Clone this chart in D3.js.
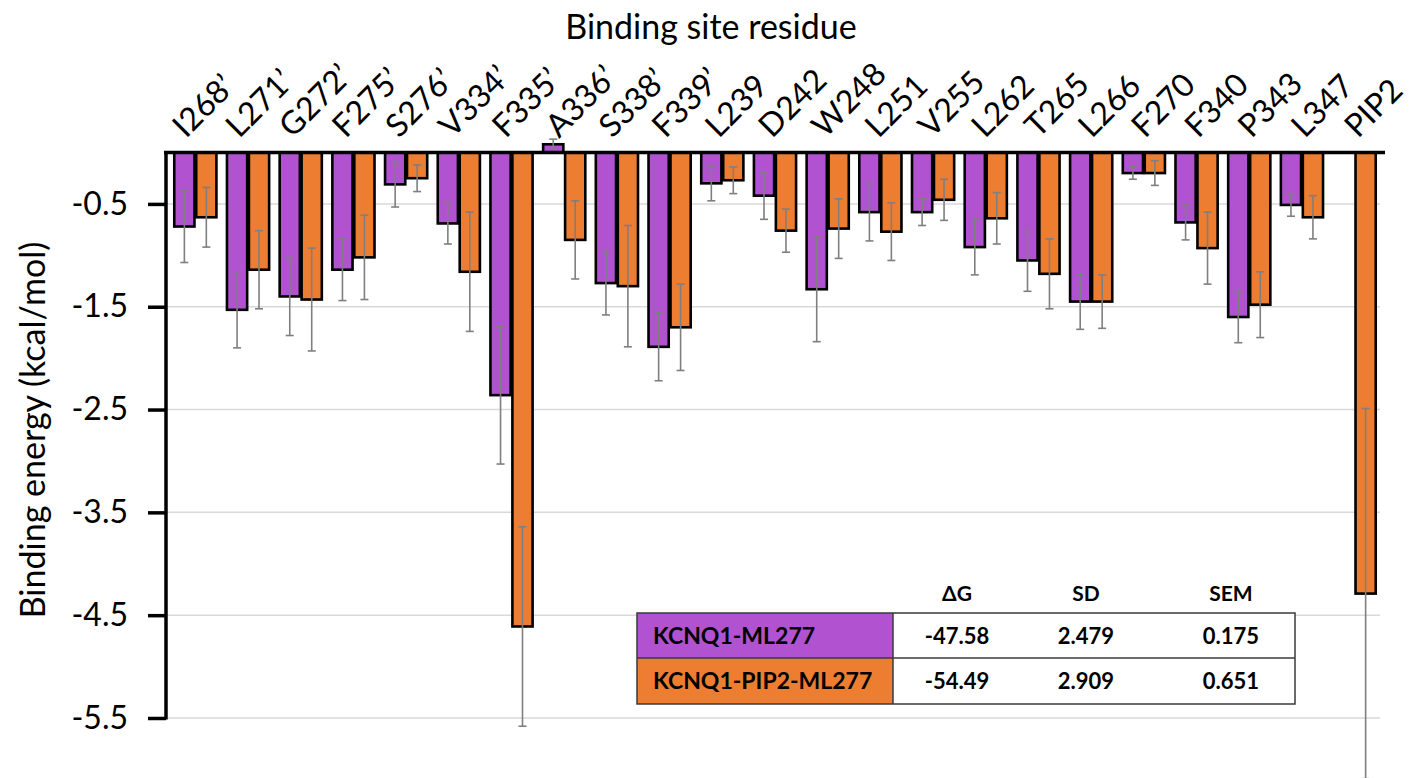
<!DOCTYPE html>
<html>
<head>
<meta charset="utf-8">
<script src="https://cdn.jsdelivr.net/npm/d3@7"></script>
<style>
  html, body { margin: 0; padding: 0; background: #fff; }
  svg { display: block; font-family: Lato, "Open Sans", sans-serif; }
</style>
</head>
<body>
<svg id="chart" width="1414" height="778"></svg>
<script>
// residues along the top axis
var residues = ["I268’", "L271’", "G272’", "F275’", "S276’", "V334’", "F335’", "A336’", "S338’", "F339’",
  "L239", "D242", "W248", "L251", "V255", "L262", "T265", "L266", "F270", "F340", "P343", "L347", "PIP2"];

// KCNQ1-ML277 (purple)
var mlValues = [-0.72, -1.53, -1.40, -1.14, -0.31, -0.69, -2.36, 0.08, -1.27, -1.89,
  -0.30, -0.42, -1.33, -0.58, -0.58, -0.92, -1.05, -1.45, -0.20, -0.68, -1.60, -0.51, null];
var mlErrors = [0.35, 0.37, 0.38, 0.30, 0.22, 0.20, 0.67, 0.05, 0.31, 0.33,
  0.17, 0.23, 0.51, 0.28, 0.13, 0.27, 0.30, 0.27, 0.06, 0.17, 0.25, 0.11, null];

// KCNQ1-PIP2-ML277 (orange)
var pipValues = [-0.63, -1.14, -1.43, -1.02, -0.25, -1.16, -4.61, -0.85, -1.30, -1.70,
  -0.27, -0.76, -0.74, -0.77, -0.46, -0.64, -1.18, -1.45, -0.20, -0.93, -1.48, -0.63, -4.29];
var pipErrors = [0.29, 0.38, 0.50, 0.41, 0.13, 0.58, 0.97, 0.38, 0.59, 0.42,
  0.13, 0.21, 0.29, 0.28, 0.20, 0.25, 0.34, 0.26, 0.12, 0.35, 0.32, 0.21, 1.80];

var yTicks = [-0.5, -1.5, -2.5, -3.5, -4.5, -5.5];

// inset table
var tableHeaders = ["ΔG", "SD", "SEM"];
var tableSystems = ["KCNQ1-ML277", "KCNQ1-PIP2-ML277"];
var tableDG = ["-47.58", "-54.49"];
var tableSD = ["2.479", "2.909"];
var tableSEM = ["0.175", "0.651"];

var cPurple = "#b153d0";
var cOrange = "#ed7d31";

var svg = d3.select("#chart");

var x0 = d3.scaleBand().domain(residues).range([169, 1381]).paddingInner(0.2).paddingOuter(0.1);
var x1 = d3.scaleBand().domain([0, 1]).range([0, x0.bandwidth()]).paddingInner(0.08);
// the rotated labels sit on a slightly wider spacing than the bars
var xLabel = d3.scalePoint().domain(residues).range([188, 1360]);
var y = d3.scaleLinear().domain([0, -5.5]).range([152.5, 718]);

// gridlines
svg.append("g")
  .selectAll("line")
  .data(yTicks)
  .enter()
  .append("line")
  .attr("x1", 166)
  .attr("x2", 1380)
  .attr("y1", d => y(d))
  .attr("y2", d => y(d))
  .attr("stroke", "#d9d9d9")
  .attr("stroke-width", 1.5);

// bars
var series = [
  { values: mlValues, errors: mlErrors, color: cPurple },
  { values: pipValues, errors: pipErrors, color: cOrange }
];

var items = [];
series.forEach((s, si) => {
  residues.forEach((r, i) => {
    if (s.values[i] === null) return;
    items.push({ res: r, k: si, v: s.values[i], e: s.errors[i], color: s.color });
  });
});

svg.append("g")
  .selectAll("rect")
  .data(items)
  .enter()
  .append("rect")
  .attr("x", d => x0(d.res) + x1(d.k))
  .attr("y", d => Math.min(y(d.v), y(0)))
  .attr("width", x1.bandwidth())
  .attr("height", d => Math.abs(y(d.v) - y(0)))
  .attr("fill", d => d.color)
  .attr("stroke", "#000")
  .attr("stroke-width", 2.6);

// error bars (+/- SD)
var err = svg.append("g")
  .attr("stroke", "#7f7f7f")
  .attr("stroke-width", 1.6);
var cap = 4;
items.forEach(d => {
  var cx = x0(d.res) + x1(d.k) + x1.bandwidth() / 2;
  err.append("line").attr("x1", cx).attr("x2", cx).attr("y1", y(d.v + d.e)).attr("y2", y(d.v - d.e));
  err.append("line").attr("x1", cx - cap).attr("x2", cx + cap).attr("y1", y(d.v + d.e)).attr("y2", y(d.v + d.e));
  err.append("line").attr("x1", cx - cap).attr("x2", cx + cap).attr("y1", y(d.v - d.e)).attr("y2", y(d.v - d.e));
});

// left axis
var yAxis = svg.append("g")
  .attr("transform", "translate(166,0)")
  .call(
    d3.axisLeft(y)
      .tickValues(yTicks)
      .tickSize(18)
      .tickPadding(20)
      .tickFormat(d => d.toFixed(1))
  );
yAxis.select(".domain").remove();
yAxis.selectAll(".tick line").attr("stroke", "#000").attr("stroke-width", 3.5);
yAxis.selectAll(".tick text")
  .attr("fill", "#000")
  .style("font-size", "32px")
  .style("font-family", "Lato, sans-serif");

svg.append("line")
  .attr("x1", 166).attr("x2", 166)
  .attr("y1", y(0)).attr("y2", y(-5.5) + 1.5)
  .attr("stroke", "#000").attr("stroke-width", 3.5);

// zero line at top
svg.append("line")
  .attr("x1", 164).attr("x2", 1385)
  .attr("y1", y(0)).attr("y2", y(0))
  .attr("stroke", "#000").attr("stroke-width", 3.5);

// category labels
svg.append("g")
  .selectAll("text")
  .data(residues)
  .enter()
  .append("text")
  .attr("transform", d => "translate(" + (xLabel(d) - 2) + ",139) rotate(-45)")
  .attr("text-anchor", "start")
  .style("font-size", "32px")
  .text(d => d);

// titles
svg.append("text")
  .attr("x", 711)
  .attr("y", 39)
  .attr("text-anchor", "middle")
  .style("font-size", "34px")
  .text("Binding site residue");

svg.append("text")
  .attr("transform", "translate(45,430) rotate(-90)")
  .attr("text-anchor", "middle")
  .style("font-size", "34px")
  .text("Binding energy (kcal/mol)");

// table
var tLeft = 637, tSplit = 893, tRight = 1295;
var rowTop = [613, 658];
var rowH = [45, 46];
var colX = [957, 1086, 1231];
var fills = [cPurple, cOrange];

var table = svg.append("g").style("font-weight", "bold").style("font-size", "23px");

table.selectAll(".hdr")
  .data(tableHeaders)
  .enter()
  .append("text")
  .attr("x", (d, i) => colX[i])
  .attr("y", 601)
  .attr("text-anchor", "middle")
  .style("font-size", "21px")
  .text(d => d);

tableSystems.forEach((name, i) => {
  table.append("rect")
    .attr("x", tLeft).attr("y", rowTop[i])
    .attr("width", tSplit - tLeft).attr("height", rowH[i])
    .attr("fill", fills[i]);
  table.append("rect")
    .attr("x", tSplit).attr("y", rowTop[i])
    .attr("width", tRight - tSplit).attr("height", rowH[i])
    .attr("fill", "#fff");
  var ty = rowTop[i] + rowH[i] / 2 + 8;
  table.append("text").attr("x", tLeft + 16).attr("y", ty).text(name);
  [tableDG[i], tableSD[i], tableSEM[i]].forEach((v, j) => {
    table.append("text").attr("x", colX[j]).attr("y", ty).attr("text-anchor", "middle").style("font-size", "22px").text(v);
  });
});

var border = table.append("g").attr("stroke", "#3a3a3a").attr("stroke-width", 1.5).attr("fill", "none");
border.append("rect").attr("x", tLeft).attr("y", rowTop[0]).attr("width", tRight - tLeft).attr("height", rowH[0] + rowH[1]);
border.append("line").attr("x1", tLeft).attr("x2", tRight).attr("y1", rowTop[1]).attr("y2", rowTop[1]);
border.append("line").attr("x1", tSplit).attr("x2", tSplit).attr("y1", rowTop[0]).attr("y2", rowTop[1] + rowH[1]);
</script>
</body>
</html>
